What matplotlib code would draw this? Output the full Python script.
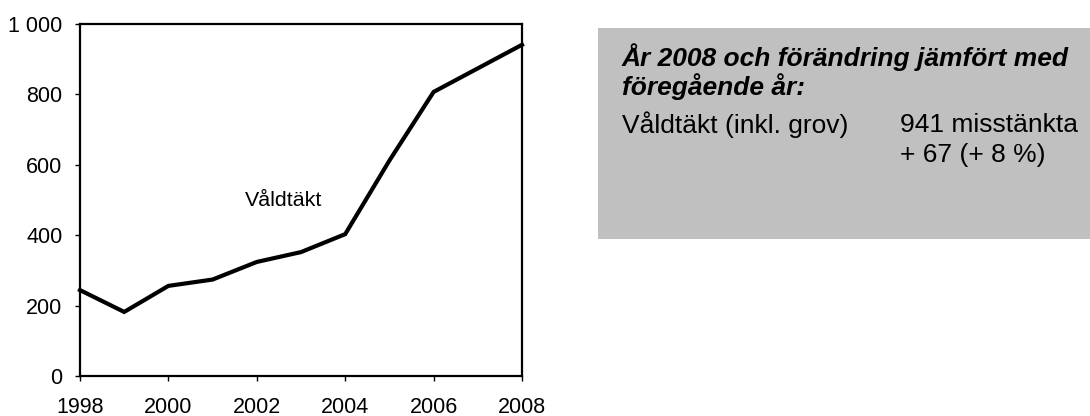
import matplotlib
matplotlib.use("Agg")
import matplotlib.pyplot as plt
from matplotlib.patches import Rectangle

# data
years = [1998, 1999, 2000, 2001, 2002, 2003, 2004, 2005, 2006, 2007, 2008]
suspects = [244, 182, 256, 274, 324, 352, 403, 612, 807, 874, 941]
yticks = [0, 200, 400, 600, 800, 1000]
ytick_labels = ["0", "200", "400", "600", "800", "1 000"]
xticks = [1998, 2000, 2002, 2004, 2006, 2008]

plt.rcParams["font.family"] = ["Liberation Sans", "DejaVu Sans"]

fig = plt.figure(figsize=(10.9, 4.16), dpi=100)
ax = fig.add_axes([80 / 1090, 1 - 376 / 416, 442 / 1090, 352 / 416])

ax.plot(years, suspects, color="black", linewidth=3.0, solid_joinstyle="miter", clip_on=False)
ax.set_xlim(1998, 2008)
ax.set_ylim(0, 1000)
ax.set_xticks(xticks)
ax.set_yticks(yticks)
ax.set_yticklabels(ytick_labels)
ax.tick_params(axis="both", labelsize=15.5, length=3.6, width=1, direction="out", colors="black")
ax.tick_params(axis="x", pad=11.5)
ax.tick_params(axis="y", pad=9)
for sp in ax.spines.values():
    sp.set_linewidth(1.6)

ax.text(2001.73, 500, "Våldtäkt", fontsize=15.4, va="center")

# gray info box
fig.patches.append(Rectangle((598 / 1090, 1 - 239 / 416), 492 / 1090, 211 / 416,
                             transform=fig.transFigure, facecolor="#c0c0c0", edgecolor="none"))
fig.text(622 / 1090, 1 - 57 / 416, "År 2008 och förändring jämfört med",
         fontsize=19, fontweight="bold", fontstyle="italic", va="center")
fig.text(622 / 1090, 1 - 87 / 416, "föregående år:",
         fontsize=19, fontweight="bold", fontstyle="italic", va="center")
fig.text(622 / 1090, 1 - 125 / 416, "Våldtäkt (inkl. grov)", fontsize=19, va="center")
fig.text(900 / 1090, 1 - 125 / 416, "941 misstänkta", fontsize=19, va="center")
fig.text(900 / 1090, 1 - 155 / 416, "+ 67 (+ 8 %)", fontsize=19, va="center")

fig.savefig("out.png", dpi=100)
